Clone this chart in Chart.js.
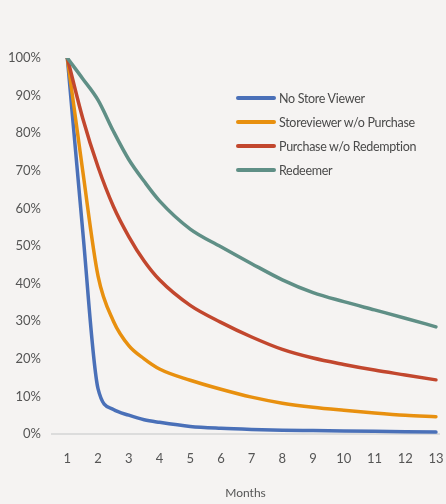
<!DOCTYPE html>
<html lang="en">
<head>
    <meta charset="UTF-8">
    <title>Retention by Months</title>
    <script src="https://cdn.jsdelivr.net/npm/chart.js"></script>
    <style>
        body {
            margin: 0;
            background-color: #f5f3f2;
            font-family: Lato, "Open Sans", sans-serif;
        }

        .container {
            position: relative;
            width: 446px;
            height: 504px;
        }

        #legend {
            position: absolute;
            left: 236px;
            top: 86px;
        }

        .legend-item {
            display: flex;
            align-items: center;
            height: 24px;
            font-size: 12.5px;
            letter-spacing: -0.3px;
            color: #4a4a4a;
        }

        .line-box {
            width: 40px;
            height: 4px;
            border-radius: 2px;
            margin-right: 3px;
        }
    </style>
</head>
<body>
    <div class="container">
        <canvas id="retentionChart" width="446" height="504"></canvas>
        <div id="legend"></div>
    </div>

    <script>
        // data (percent still active)
        const months = [1, 1.5, 2, 2.5, 3, 3.5, 4, 5, 6, 7, 8, 9, 10, 11, 12, 13];
        const tickMonths = [1, 2, 3, 4, 5, 6, 7, 8, 9, 10, 11, 12, 13];
        const seriesNames = ['No Store Viewer', 'Storeviewer w/o Purchase', 'Purchase w/o Redemption', 'Redeemer'];
        const seriesColors = ['#4a70b8', '#e8900f', '#c2472e', '#5f8f86'];
        const noStoreViewer = [100, 54, 12, 6.5, 5, 3.8, 3.1, 2.0, 1.5, 1.2, 1.0, 0.9, 0.8, 0.7, 0.6, 0.5];
        const storeviewer = [100, 70, 42, 30, 23.5, 20, 17.3, 14.3, 11.9, 9.8, 8.2, 7.1, 6.3, 5.6, 5.0, 4.6];
        const purchase = [100, 84, 71, 60.5, 52.5, 46, 41, 34.2, 29.7, 25.8, 22.5, 20.2, 18.5, 17, 15.7, 14.4];
        const redeemer = [100, 94.5, 88.8, 80.5, 73, 67.2, 62, 54.5, 49.8, 45.3, 41, 37.6, 35.2, 33, 30.8, 28.5];

        const allSeries = [noStoreViewer, storeviewer, purchase, redeemer];

        const datasets = allSeries.map((values, i) => ({
            label: seriesNames[i],
            data: values.map((v, j) => ({ x: months[j], y: v })),
            borderColor: seriesColors[i],
            borderWidth: 3.5,
            pointRadius: 0,
            cubicInterpolationMode: 'monotone',
            borderCapStyle: 'round',
            fill: false
        }));

        // Draw back to front so blue sits on top like the original
        datasets.reverse();

        const labelFont = { family: 'Lato', size: 13 };

        new Chart(document.getElementById('retentionChart'), {
            type: 'line',
            data: { datasets: datasets },
            options: {
                responsive: false,
                animation: false,
                layout: { padding: { top: 58, right: 7, left: 0, bottom: 0 } },
                plugins: {
                    legend: { display: false },
                    tooltip: { enabled: false }
                },
                scales: {
                    x: {
                        type: 'linear',
                        min: 0.5,
                        max: 13.1,
                        afterBuildTicks: axis => {
                            axis.ticks = tickMonths.map(v => ({ value: v }));
                        },
                        afterFit: axis => {
                            axis.height = 70;
                            // don't let the tick labels squeeze the plot
                            axis.paddingLeft = 0;
                            axis.paddingRight = 0;
                        },
                        grid: { display: false, drawTicks: false },
                        border: { color: '#dcdcdc', width: 2 },
                        ticks: { color: '#555', font: labelFont, padding: 17, maxRotation: 0 },
                        title: {
                            display: true,
                            text: 'Months',
                            color: '#555',
                            font: { family: 'Lato', size: 12 },
                            padding: { top: 10, bottom: 4 }
                        }
                    },
                    y: {
                        min: 0,
                        max: 100,
                        afterFit: axis => { axis.width = 52; },
                        grid: { display: false, drawTicks: false },
                        border: { display: false },
                        ticks: {
                            stepSize: 10,
                            color: '#555',
                            font: labelFont,
                            padding: 11,
                            callback: v => v + '%'
                        }
                    }
                }
            }
        });

        // legend built by hand, inside the plot at the upper right
        const legend = document.getElementById('legend');
        seriesNames.forEach((name, i) => {
            const item = document.createElement('div');
            item.className = 'legend-item';
            item.innerHTML = '<div class="line-box" style="background-color:' + seriesColors[i] + '"></div><span>' + name + '</span>';
            legend.appendChild(item);
        });
    </script>
</body>
</html>
